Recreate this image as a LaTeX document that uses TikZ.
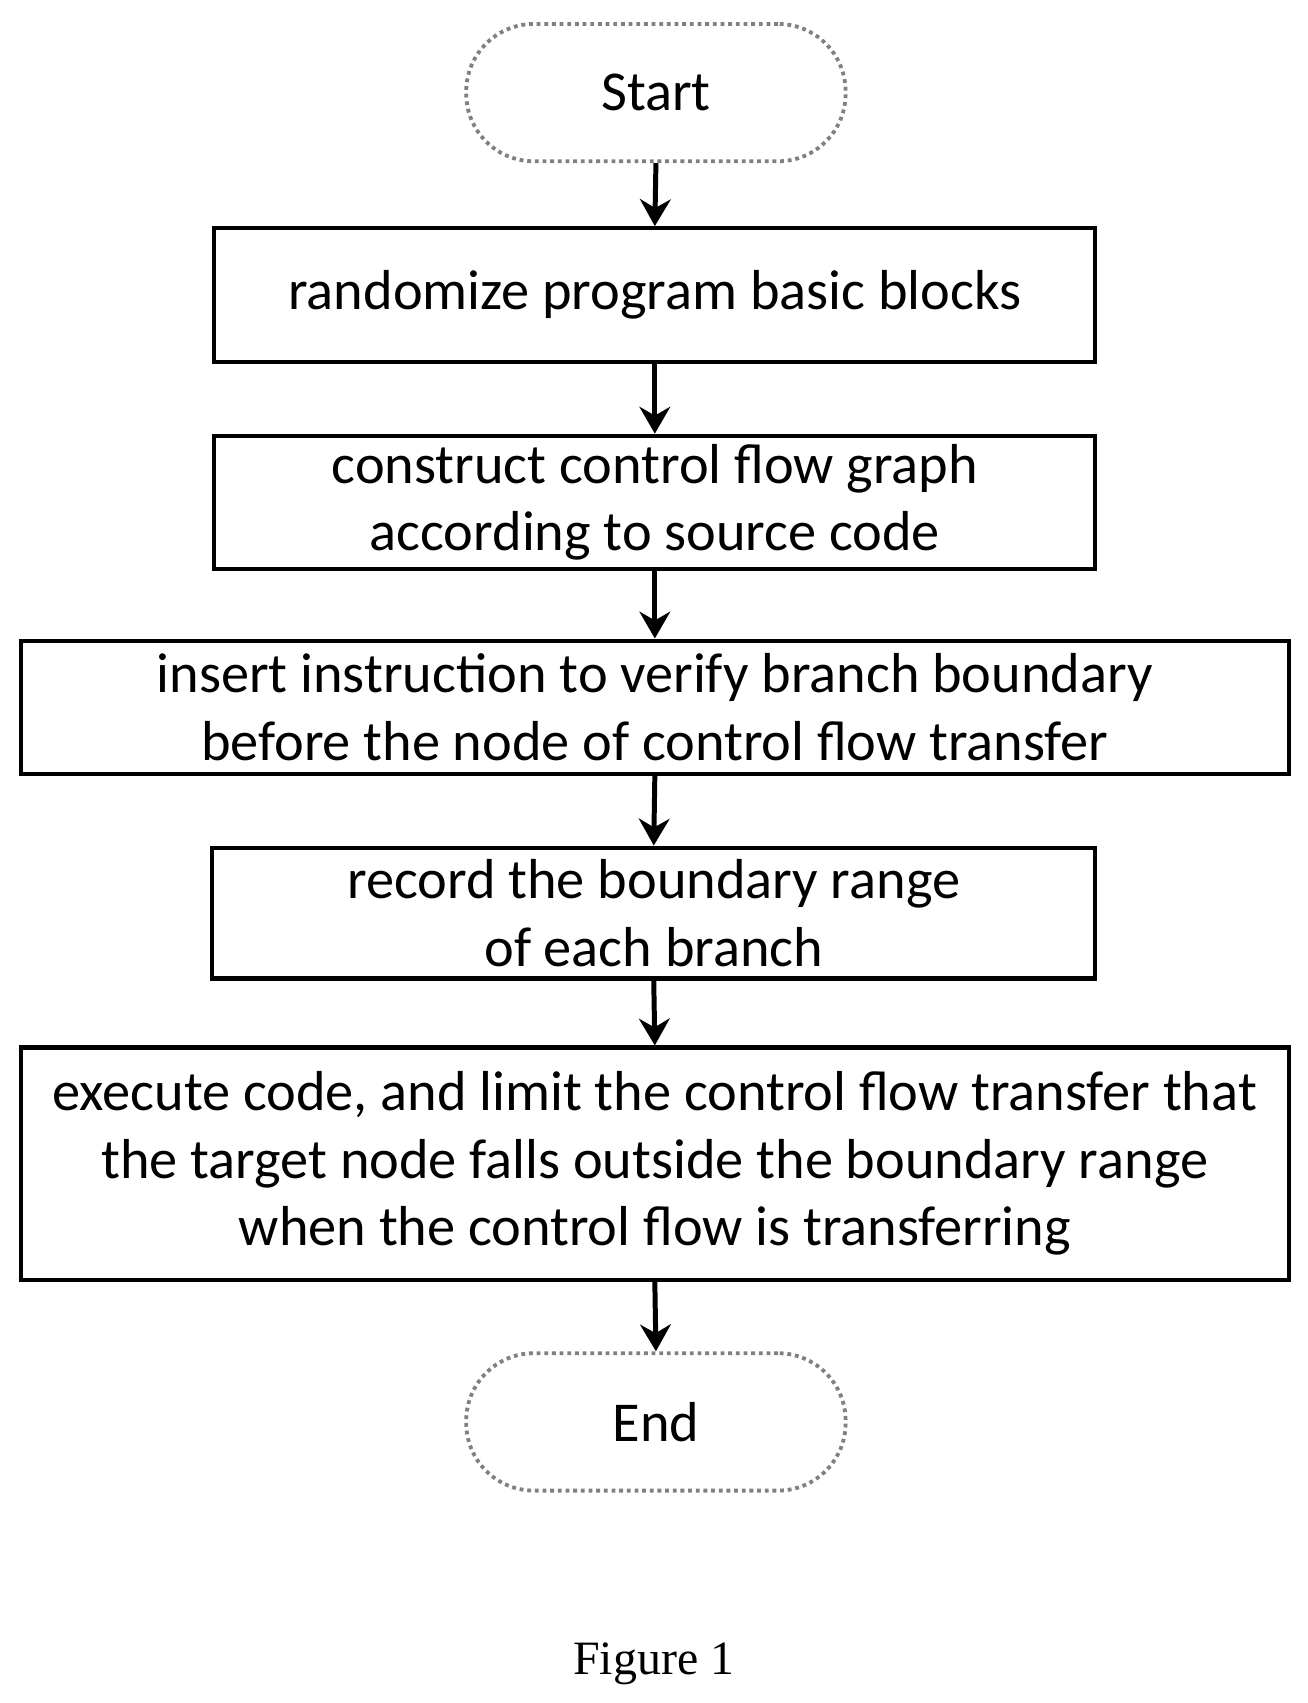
\documentclass[tikz,border=0pt]{standalone}
\usepackage{fontspec}
\setmainfont{Carlito}
\newfontfamily\capfont{Liberation Serif}
\usetikzlibrary{arrows.meta,positioning}
\begin{document}
\begin{tikzpicture}
	[ x=0.01cm, y=-0.01cm,
	  box/.style={ draw, line width=1.1pt, align=center, inner sep=0pt,
	  font=\fontsize{14.7}{17.6}\selectfont },
	  term/.style={ draw=gray, densely dotted, line width=1pt, rounded corners=0.62cm,
	  minimum width=3.48cm, minimum height=1.26cm, font=\fontsize{14.7}{17.6}\selectfont },
	  flow/.style={ ->, >={Stealth[length=7pt,width=8pt]}, line width=1.3pt }
	]
	\useasboundingbox (0,0) rectangle (1200,1563);
	\node[term] (start) at (602,85) {Start};
	\node[box, minimum width=8.08cm, minimum height=1.23cm] (rand) at (601,271)
		{randomize program basic blocks};
	\node[box, minimum width=8.08cm, minimum height=1.22cm] (cfg) at (601,461)
		{construct control flow graph\\according to source code};
	\node[box, minimum width=11.63cm, minimum height=1.22cm] (ins) at (601,649)
		{insert instruction to verify branch boundary\\before the node of control flow transfer};
	\node[box, minimum width=8.1cm, minimum height=1.2cm] (rec) at (600,838)
		{record the boundary range\\of each branch};
	\node[box, minimum width=11.63cm, minimum height=2.13cm] (exe) at (601,1068)
		{execute code, and limit the control flow transfer that\\the target node falls outside the boundary range\\when the control flow is transferring};
	\node[term] (end) at (602,1305) {End};
	\node[font=\capfont\fontsize{12.5}{15}\selectfont] (cap) at (600,1527) {Figure 1};
	\foreach \a/\b in {start/rand,rand/cfg,cfg/ins,ins/rec,rec/exe,exe/end}{
		\draw[flow] (\a.south) -- (\b.north);
	}
\end{tikzpicture}
\end{document}
